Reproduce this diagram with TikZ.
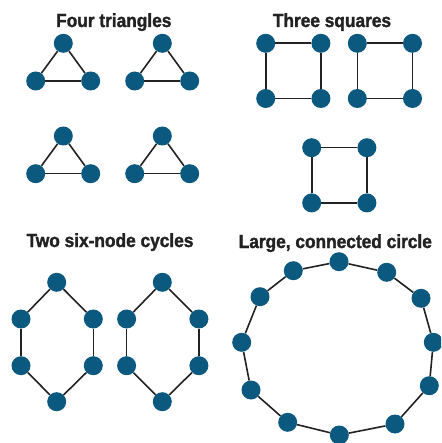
\documentclass[tikz,border=0pt]{standalone}
\usepackage{fontspec}
\setmainfont{Liberation Sans}
\newfontfamily\titlefont[FakeStretch=0.91,FakeBold=1.6]{Liberation Sans}
\definecolor{nodeblue}{RGB}{11,89,126}
\definecolor{edgecol}{RGB}{34,34,34}
\definecolor{titlecol}{RGB}{34,34,34}
\begin{document}
\begin{tikzpicture}[x=1pt,y=-1pt,
  vtx/.style={circle,fill=nodeblue,minimum size=19pt,inner sep=0pt},
  edge/.style={draw=edgecol,line width=1.6pt},
  ttl/.style={anchor=base,font=\titlefont\bfseries\fontsize{19}{21}\selectfont,text=titlecol,inner sep=0pt}]
\useasboundingbox (0,0) rectangle (441,443);
\clip (0,0) rectangle (441,443);
% titles
\node[ttl] (t1) at (113.8,27) {Four triangles};
\node[ttl] (t2) at (332,27) {Three squares};
\node[ttl] (t3) at (110,247) {Two six-node cycles};
\node[ttl] (t4) at (335.3,248) {Large, connected circle};
% triangles
\foreach \i/\x/\y in {1/0/0,2/99/0,3/0/92.7,4/99/92.7}{
  \node[vtx] (tr\i a) at (63.3+\x,43.3+\y) {};
  \node[vtx] (tr\i b) at (35.7+\x,81+\y) {};
  \node[vtx] (tr\i c) at (90.7+\x,81+\y) {};
  \draw[edge] (tr\i a) -- (tr\i b);
  \draw[edge] (tr\i b) -- (tr\i c);
  \draw[edge] (tr\i c) -- (tr\i a);
}
% squares
\foreach \i/\x/\y in {1/265.7/43.3,2/357.3/43.3,3/311.7/147.7}{
  \node[vtx] (sq\i a) at (\x,\y) {};
  \node[vtx] (sq\i b) at (\x+55.2,\y) {};
  \node[vtx] (sq\i c) at (\x+55.2,\y+55.2) {};
  \node[vtx] (sq\i d) at (\x,\y+55.2) {};
  \draw[edge] (sq\i a) -- (sq\i b);
  \draw[edge] (sq\i b) -- (sq\i c);
  \draw[edge] (sq\i c) -- (sq\i d);
  \draw[edge] (sq\i d) -- (sq\i a);
}
% six-node cycles
\foreach \i/\x in {1/0,2/105.6}{
  \node[vtx] (cy\i a) at (56.7+\x,282.3) {};
  \node[vtx] (cy\i b) at (93.3+\x,319) {};
  \node[vtx] (cy\i c) at (93.3+\x,365.7) {};
  \node[vtx] (cy\i d) at (56.7+\x,401.7) {};
  \node[vtx] (cy\i e) at (21+\x,365.7) {};
  \node[vtx] (cy\i f) at (21+\x,319) {};
  \draw[edge] (cy\i a) -- (cy\i b);
  \draw[edge] (cy\i b) -- (cy\i c);
  \draw[edge] (cy\i c) -- (cy\i d);
  \draw[edge] (cy\i d) -- (cy\i e);
  \draw[edge] (cy\i e) -- (cy\i f);
  \draw[edge] (cy\i f) -- (cy\i a);
}
% large circle
\foreach \n/\x/\y in {1/339/261.7,2/386.7/272.3,3/421/298.3,4/433.3/342.3,5/429.3/385.7,6/395/424,7/339.3/435,8/287.7/422.3,9/251/390,10/241.7/342.3,11/260/296.7,12/293.3/270.7}{
  \node[vtx] (L\n) at (\x,\y) {};
}
\foreach \n [remember=\n as \p (initially 12)] in {1,...,12}{
  \draw[edge] (L\p) -- (L\n);
}
\end{tikzpicture}
\end{document}
